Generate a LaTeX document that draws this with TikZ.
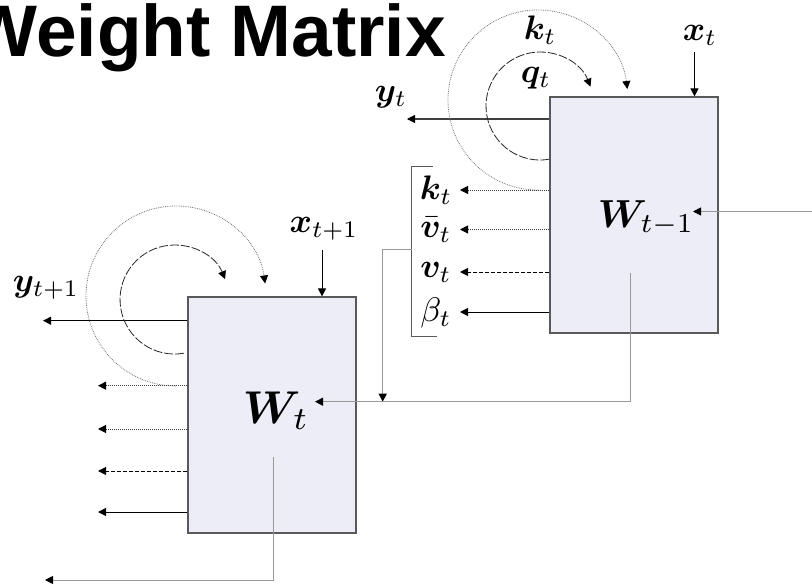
\documentclass[tikz,border=0pt]{standalone}
\usepackage{fontspec}
\usepackage{amsmath,bm}
\usetikzlibrary{arrows.meta,calc}
\newfontfamily\titlefont{Liberation Sans}
\definecolor{boxfill}{RGB}{237,237,248}
\begin{document}
\begin{tikzpicture}[x=1pt,y=1pt,
  tip/.style={-{Triangle[length=8pt,width=8pt,color=black]}},
  wbox/.style={draw=black!65, line width=1.2pt, fill=boxfill, minimum width=168pt, minimum height=236pt, inner sep=0pt},
  lbl/.style={scale=3.4, inner sep=0pt},
  bigl/.style={scale=4.6, inner sep=0pt},
  solidout/.style={tip, draw=black, line width=1pt},
  dotout/.style={tip, draw=black!75, line width=1pt, densely dotted},
  dashout/.style={tip, draw=black, line width=1pt, dash pattern=on 4pt off 2pt},
  dotarc/.style={tip, draw=black!55, line width=0.8pt, densely dotted},
  dasharc/.style={tip, draw=black!85, line width=0.8pt, dash pattern=on 9pt off 2pt},
  feed/.style={draw=black!40, line width=1pt},
  brk/.style={draw=black!65, line width=1pt}]
\useasboundingbox (0,0) rectangle (812,-586);

% title
\node[anchor=base east, font=\titlefont\bfseries\fontsize{73}{80}\selectfont, inner sep=0pt] (title) at (446,-57) {Weight Matrix};

% boxes
\node[wbox] (B1) at (634,-215) {};
\node[wbox] (B0) at (272,-415) {};
\node[bigl, scale=0.85, anchor=base west] (W1) at (597,-227) {$\bm{W}_{t-1}$};
\node[bigl, anchor=base west] (W0) at (242,-423) {$\bm{W}_{t}$};

% ---------- right box ----------
\node[lbl] (xt) at (700,-35) {$\bm{x}_t$};
\coordinate (xts) at (694.5,-52);
\draw[solidout] (xts) -- (xts |- B1.north);

\node[lbl] (yt) at (391,-97) {$\bm{y}_t$};
\coordinate (yte) at (407,-119);
\draw[solidout, draw=black!75] (yte -| B1.west) -- (yte);

\node[lbl] (kt1) at (540,-30) {$\bm{k}_t$};
\node[lbl] (qt1) at (536,-78) {$\bm{q}_t$};
\draw[dotarc] (538,-190) arc[start angle=-90, end angle=-353, radius=90];
\draw[dasharc] (549.4,-159.2) arc[start angle=-80, end angle=-339, radius=54];

\node[lbl] (ok) at (436,-190) {$\bm{k}_t$};
\node[lbl] (ov) at (436,-230) {$\bar{\bm{v}}_t$};
\node[lbl] (ow) at (436,-272) {$\bm{v}_t$};
\node[lbl] (ob) at (436,-313) {$\beta_t$};
\coordinate (e1) at (460,-190);
\coordinate (e2) at (460,-229.5);
\coordinate (e3) at (460,-272);
\coordinate (e4) at (460,-312);
\draw[dotout] (e1 -| B1.west) -- (e1);
\draw[dotout] (e2 -| B1.west) -- (e2);
\draw[dashout] (e3 -| B1.west) -- (e3);
\draw[solidout] (e4 -| B1.west) -- (e4);

% bracket
\coordinate (bt) at (411.7,-166.7);
\coordinate (bb) at (411.7,-336.7);
\coordinate (bm) at (411.7,-249.3);
\draw[brk] (433,-166.7) -- (bt) -- (bb) -- (437,-336.7);

% feedback from bracket
\coordinate (fb) at (382.7,-249.3);
\coordinate (fbe) at (382.7,-401.7);
\draw[feed, tip] (bm) -- (fb) -- (fbe);

% feedback from W_{t-1} to W_t
\coordinate (w1s) at (630,-273);
\coordinate (w1c) at (630,-401.7);
\coordinate (w0e) at (315,-401.7);
\draw[feed, tip] (w1s) -- (w1c) -- (w0e);

% input from the right
\coordinate (rin) at (812,-211.5);
\coordinate (rine) at (693,-211.5);
\draw[feed, tip] (rin) -- (rine);

% ---------- left box ----------
\node[lbl] (xt0) at (324,-229) {$\bm{x}_{t+1}$};
\coordinate (xts0) at (322,-250);
\draw[solidout] (xts0) -- (xts0 |- B0.north);

\node[lbl] (yt0) at (46,-288) {$\bm{y}_{t+1}$};
\coordinate (yte0) at (43,-320.7);
\draw[solidout] (yte0 -| B0.west) -- (yte0);

\draw[dotarc] (176,-386) arc[start angle=-90, end angle=-352, radius=90];
\draw[dasharc] (184,-353.2) arc[start angle=-80, end angle=-338, radius=54.5];

\coordinate (f1) at (98,-385.7);
\coordinate (f2) at (98,-429);
\coordinate (f3) at (98,-471);
\coordinate (f4) at (98,-512);
\draw[dotout] (f1 -| B0.west) -- (f1);
\draw[dotout] (f2 -| B0.west) -- (f2);
\draw[dashout] (f3 -| B0.west) -- (f3);
\draw[solidout] (f4 -| B0.west) -- (f4);

% output from W_t
\coordinate (w0s) at (273,-456.7);
\coordinate (w0c) at (273,-580);
\coordinate (w0o) at (45,-580);
\draw[feed, tip] (w0s) -- (w0c) -- (w0o);
\end{tikzpicture}
\end{document}
